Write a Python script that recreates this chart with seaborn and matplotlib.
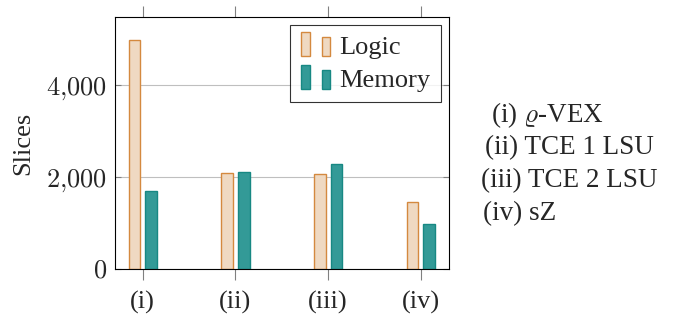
import matplotlib
matplotlib.use("Agg")
import matplotlib.pyplot as plt
import seaborn as sns
import pandas as pd
from matplotlib.patches import Rectangle
from matplotlib.legend_handler import HandlerBase
from matplotlib.ticker import FuncFormatter

categories = ["(i)", "(ii)", "(iii)", "(iv)"]
logic = [4960, 2085, 2060, 1455]
memory = [1700, 2110, 2280, 975]
series = ["Logic", "Memory"]
yticks = [0, 2000, 4000]
side_labels = [r"(i) $\varrho$-VEX", "(ii) TCE 1 LSU", "(iii) TCE 2 LSU", "(iv) sZ"]

logic_face, logic_edge = "#EFD9C2", "#D4893F"
mem_face, mem_edge = "#339A97", "#178883"

df = pd.DataFrame({
    "cat": categories * 2,
    "value": logic + memory,
    "series": ["Logic"] * 4 + ["Memory"] * 4,
})

sns.set_style("white")
plt.rcParams["font.family"] = ["Liberation Serif", "DejaVu Serif"]
plt.rcParams["mathtext.fontset"] = "cm"

fig = plt.figure(figsize=(6.83, 3.14), dpi=100)
ax = fig.add_axes([115 / 683, 1 - 269 / 314, (448.5 - 115) / 683, (269 - 17) / 314])

sns.barplot(data=df, x="cat", y="value", hue="series", order=categories,
            hue_order=series, palette=[logic_face, mem_face], ax=ax,
            legend=False, width=0.36, gap=0.3, saturation=1)

for i, patch in enumerate(ax.patches):
    patch.set_linewidth(1.0)
    patch.set_edgecolor(logic_edge if i < len(categories) else mem_edge)

ax.set_xlim(-0.3, 3.3)
ax.set_ylim(0, 5470)
ax.set_yticks(yticks)
ax.yaxis.set_major_formatter(FuncFormatter(lambda v, p: "$%s$" % ("{:,}".format(int(v)).replace(",", "{,}"))))
ax.grid(axis="y", color="#BFBFBF", linewidth=0.8)
ax.set_axisbelow(True)
ax.set_xlabel("")
ax.set_ylabel("Slices", fontsize=19, labelpad=8)

ax.tick_params(axis="x", which="both", direction="out", length=8, width=0.8,
               color="#808080", labelsize=19, pad=8, top=True, bottom=True)
ax.tick_params(axis="y", which="both", direction="in", length=4, width=0.8,
               color="#808080", labelsize=19, pad=6, left=True, right=True)
for s in ax.spines.values():
    s.set_color("black")
    s.set_linewidth(0.8)
    s.set_visible(True)


class TwoBarHandler(HandlerBase):
    def __init__(self, face, edge):
        super().__init__()
        self.face, self.edge = face, edge

    def create_artists(self, legend, orig_handle, xdescent, ydescent, width,
                       height, fontsize, trans):
        bw = width * 0.25
        h = height * 1.3
        y0 = -ydescent - height * 0.12
        r1 = Rectangle((-xdescent + width * 0.02, y0), bw, h, facecolor=self.face,
                       edgecolor=self.edge, lw=1.0, transform=trans)
        r2 = Rectangle((-xdescent + width * 0.62, y0), bw, h * 0.8, facecolor=self.face,
                       edgecolor=self.edge, lw=1.0, transform=trans)
        return [r1, r2]


h1 = Rectangle((0, 0), 1, 1)
h2 = Rectangle((0, 0), 1, 1)
leg = ax.legend([h1, h2], series, loc="upper right", fontsize=19,
                handler_map={h1: TwoBarHandler(logic_face, logic_edge),
                             h2: TwoBarHandler(mem_face, mem_edge)},
                frameon=True, fancybox=False, edgecolor="black",
                handlelength=1.3, handletextpad=0.15, borderpad=0.4,
                labelspacing=0.35, borderaxespad=0.3)
leg.get_frame().set_linewidth(0.8)

side_x = [491, 485, 481, 483]
side_y = [115, 148, 181, 214]
for lab, x, y in zip(side_labels, side_x, side_y):
    fig.text(x / 683, 1 - y / 314, lab, fontsize=19.5, ha="left", va="center")

fig.savefig("out.png", dpi=100)
